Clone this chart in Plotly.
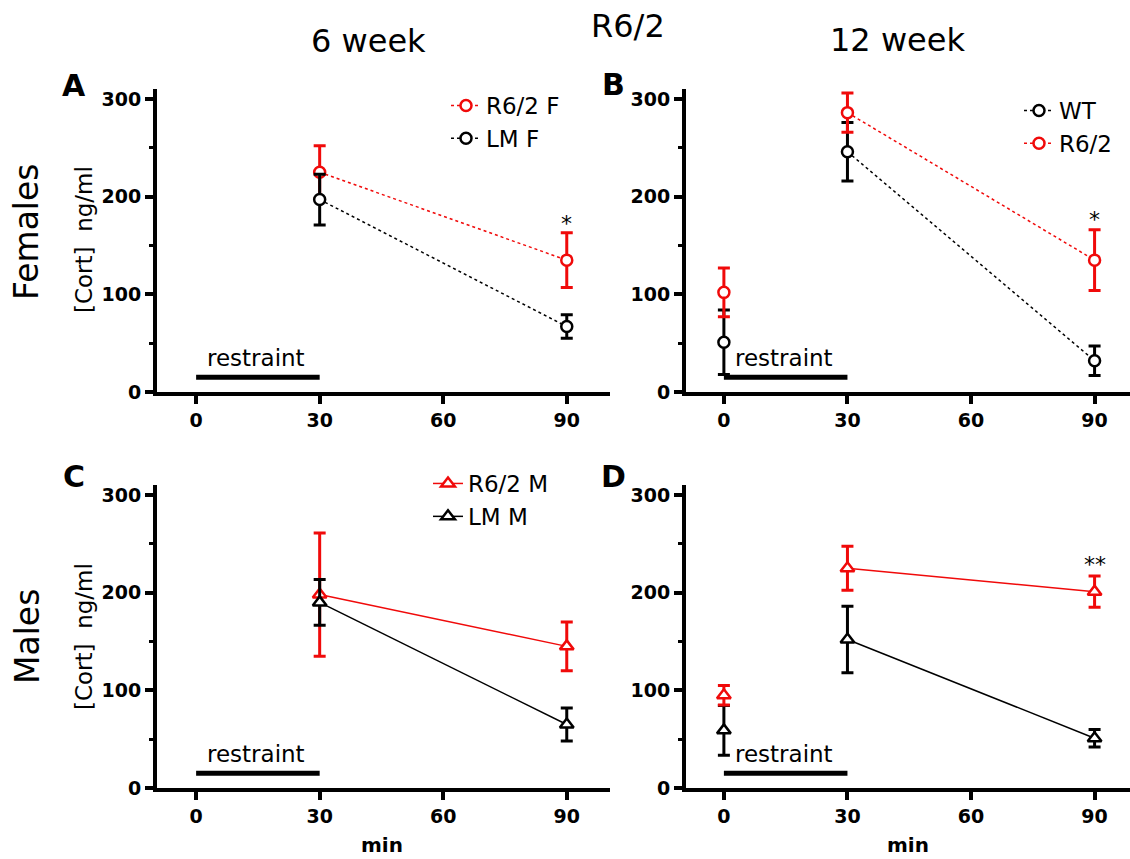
import plotly.graph_objects as go

# ---------------- data ----------------
tick_min = [0, 30, 60, 90]
tick_conc = [0, 100, 200, 300]

# Panel A: 6 week females
a_time = [30, 90]
a_r62_mean = [225, 135]
a_r62_sem = [27, 28]
a_lm_mean = [197, 67]
a_lm_sem = [26, 12]

# Panel B: 12 week females
b_time = [0, 30, 90]
b_wt_mean = [51, 246, 32]
b_wt_sem = [33, 30, 15]
b_r62_mean = [102, 286, 135]
b_r62_sem = [25, 20, 31]

# Panel C: 6 week males
c_time = [30, 90]
c_r62_mean = [198, 145]
c_r62_sem = [63, 25]
c_lm_mean = [190, 65]
c_lm_sem = [23.5, 17]

# Panel D: 12 week males
d_time = [0, 30, 90]
d_r62_mean = [95, 225, 201]
d_r62_sem = [10, 22.5, 16]
d_wt_mean = [59, 152, 51]
d_wt_sem = [25.5, 34, 9]

restraint_x = [0, 30]
restraint_y = [15, 15]

# ---------------- style ----------------
W, H = 1130, 859
RED = "#f00a0a"
BLK = "#000000"
FONT = "DejaVu Sans"


def px(x):
    return x / W


def py(y):
    return 1 - y / H


fig = go.Figure()


def add_series(xa, ya, t, m, s, color, symbol, dash, name, legend, show_legend):
    # points at t == 0 are baseline samples, not joined to the line
    idx_line = [i for i, v in enumerate(t) if v != 0]
    idx_free = [i for i, v in enumerate(t) if v == 0]
    marker = dict(symbol=symbol, size=11 if symbol == "circle" else 12, color="white",
                  line=dict(color=color, width=2.5))
    err = dict(type="data", thickness=3, width=6, color=color)
    if idx_free:
        fig.add_trace(go.Scatter(
            x=[t[i] for i in idx_free], y=[m[i] for i in idx_free],
            error_y=dict(err, array=[s[i] for i in idx_free]),
            mode="markers", marker=marker, showlegend=False,
            xaxis=xa, yaxis=ya, hoverinfo="skip"))
    fig.add_trace(go.Scatter(
        x=[t[i] for i in idx_line], y=[m[i] for i in idx_line],
        error_y=dict(err, array=[s[i] for i in idx_line]),
        mode="lines+markers", marker=marker,
        line=dict(color=color, width=1.5, dash=dash),
        name=name, legend=legend, legendgroup=name + legend,
        showlegend=show_legend, xaxis=xa, yaxis=ya))


# Panel A
add_series("x", "y", a_time, a_r62_mean, a_r62_sem, RED, "circle", "dot", "R6/2 F", "legend", True)
add_series("x", "y", a_time, a_lm_mean, a_lm_sem, BLK, "circle", "dot", "LM F", "legend", True)
# Panel B
add_series("x2", "y2", b_time, b_wt_mean, b_wt_sem, BLK, "circle", "dot", "WT", "legend2", True)
add_series("x2", "y2", b_time, b_r62_mean, b_r62_sem, RED, "circle", "dot", "R6/2", "legend2", True)
# Panel C
add_series("x3", "y3", c_time, c_r62_mean, c_r62_sem, RED, "triangle-up", "solid", "R6/2 M", "legend3", True)
add_series("x3", "y3", c_time, c_lm_mean, c_lm_sem, BLK, "triangle-up", "solid", "LM M", "legend3", True)
# Panel D
add_series("x4", "y4", d_time, d_wt_mean, d_wt_sem, BLK, "triangle-up", "solid", "WT M", "legend3", False)
add_series("x4", "y4", d_time, d_r62_mean, d_r62_sem, RED, "triangle-up", "solid", "R6/2 M", "legend3", False)

# restraint bars
for xa, ya in [("x", "y"), ("x2", "y2"), ("x3", "y3"), ("x4", "y4")]:
    fig.add_trace(go.Scatter(x=restraint_x, y=restraint_y, mode="lines",
                             line=dict(color=BLK, width=5), showlegend=False,
                             xaxis=xa, yaxis=ya, hoverinfo="skip"))

# ---------------- axes ----------------
x_left = [px(157), px(610)]
x_right = [px(686), 1.0]
y_top = [py(392), py(89)]
y_bot = [py(788), py(485)]

common_x = dict(showline=True, linewidth=4, linecolor=BLK, ticks="outside", ticklen=8,
                tickwidth=4, tickcolor=BLK, tickvals=tick_min, showgrid=False, zeroline=False,
                tickfont=dict(family=FONT, size=19, color=BLK, weight="bold"))
common_y = dict(showline=True, linewidth=4, linecolor=BLK, ticks="outside", ticklen=8,
                tickwidth=4, tickcolor=BLK, tickvals=tick_conc, showgrid=False, zeroline=False,
                range=[0, 310.2],
                minor=dict(tickvals=[50, 150, 250], ticks="outside", ticklen=4, tickwidth=3,
                           tickcolor=BLK, showgrid=False),
                tickfont=dict(family=FONT, size=19, color=BLK, weight="bold"))

fig.update_layout(
    xaxis=dict(common_x, domain=x_left, range=[-9.5, 100.5], anchor="y"),
    yaxis=dict(common_y, domain=y_top, anchor="x"),
    xaxis2=dict(common_x, domain=x_right, range=[-9.2, 98.6], anchor="y2"),
    yaxis2=dict(common_y, domain=y_top, anchor="x2"),
    xaxis3=dict(common_x, domain=x_left, range=[-9.5, 100.5], anchor="y3"),
    yaxis3=dict(common_y, domain=y_bot, anchor="x3"),
    xaxis4=dict(common_x, domain=x_right, range=[-9.2, 98.6], anchor="y4"),
    yaxis4=dict(common_y, domain=y_bot, anchor="x4"),
)

legend_common = dict(font=dict(family=FONT, size=23, color=BLK), bgcolor="rgba(0,0,0,0)",
                     borderwidth=0, xanchor="left", yanchor="top", tracegroupgap=7,
                     traceorder="normal")
fig.update_layout(
    legend=dict(legend_common, x=px(446), y=py(84)),
    legend2=dict(legend_common, x=px(1019), y=py(89)),
    legend3=dict(legend_common, x=px(428), y=py(462)),
)

# ---------------- text ----------------
ann = []


def txt(x, y, s, size, bold=False, angle=0, xref="paper", yref="paper"):
    ann.append(dict(x=x, y=y, xref=xref, yref=yref, text=s, showarrow=False,
                    xanchor="center", yanchor="middle", textangle=angle,
                    font=dict(family=FONT, size=size, color=BLK,
                              weight="bold" if bold else "normal")))


txt(px(369), py(41), "6 week", 32)
txt(px(628), py(26), "R6/2", 32)
txt(px(897), py(40), "12 week", 32)

txt(px(74), py(85), "A", 30, bold=True)
txt(px(613), py(84), "B", 30, bold=True)
txt(px(74), py(477), "C", 30, bold=True)
txt(px(613), py(477), "D", 30, bold=True)

txt(px(26), py(232), "Females", 33, angle=-90)
txt(px(27), py(637), "Males", 33, angle=-90)
txt(px(84), py(240), "[Cort]  ng/ml", 23, angle=-90)
txt(px(84), py(637), "[Cort]  ng/ml", 23, angle=-90)

txt(px(382), py(845), "min", 20, bold=True)
txt(px(908), py(845), "min", 20, bold=True)

for xr, yr in [("x", "y"), ("x2", "y2"), ("x3", "y3"), ("x4", "y4")]:
    txt(14.5, 35, "restraint", 23, xref=xr, yref=yr)

txt(90, 172, "*", 22, xref="x", yref="y")
txt(90, 177, "*", 22, xref="x2", yref="y2")
txt(90, 229, "**", 22, xref="x4", yref="y4")

fig.update_layout(
    annotations=ann,
    width=W, height=H,
    margin=dict(l=0, r=0, t=0, b=0, autoexpand=False),
    paper_bgcolor="white", plot_bgcolor="white",
    hovermode=False,
)

fig.write_html("out.html", config={"displayModeBar": False},
               post_script="document.body.style.margin='0';document.body.style.overflow='hidden';")
